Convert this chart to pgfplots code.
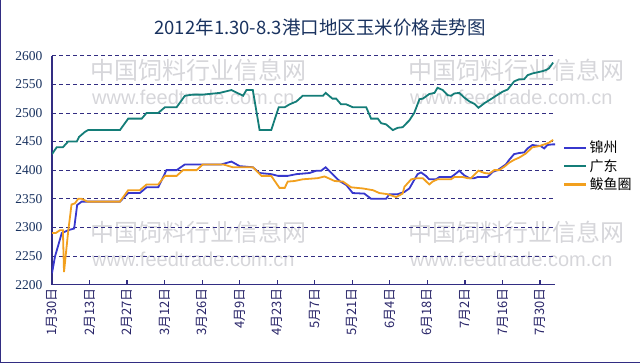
\documentclass[border=0pt]{standalone}
\usepackage{pgfplots}
\pgfplotsset{compat=1.18}
\usepackage{fontspec}
\setmainfont{Noto Sans CJK SC}
\newfontfamily\numfont{Liberation Serif}
\newfontfamily\wwwfont{Liberation Sans}
\definecolor{jz}{RGB}{55,55,205}
\definecolor{gd}{RGB}{20,125,120}
\definecolor{byq}{RGB}{242,160,30}
\definecolor{navyc}{RGB}{50,45,130}
\definecolor{titlec}{RGB}{25,50,95}
\definecolor{wm}{RGB}{214,214,218}
\begin{document}
\begin{tikzpicture}[x=1pt,y=1pt]
\path[use as bounding box] (0,0) rectangle (640,363);
\draw[navyc, line width=1.2pt] (0.6,363) -- (0.6,0.6) -- (640,0.6);
% watermarks
\foreach \xx/\yy in {90/293, 408/293, 90/131, 408/131}{
  \node[anchor=west, text=wm, font=\fontsize{24}{24}\selectfont, inner sep=0pt] at (\xx,\yy) {中国饲料行业信息网};
  \node[anchor=west, text=wm, font=\wwwfont\fontsize{20}{20}\selectfont, inner sep=0pt] at (\xx+2,\yy-27) {www.feedtrade.com.cn};
}
\node[text=titlec, font=\fontsize{18.5}{20}\selectfont] at (320,335) {2012年1.30-8.3港口地区玉米价格走势图};
\begin{axis}[
  at={(52pt,78.4pt)}, anchor=south west,
  scale only axis, width=503pt, height=228.9pt,
  xmin=0, xmax=134, ymin=2200, ymax=2600,
  xtick={0,10,...,130},
  xticklabels={1月30日,2月13日,2月27日,3月12日,3月26日,4月9日,4月23日,5月7日,5月21日,6月4日,6月18日,7月2日,7月16日,7月30日},
  ytick={2200,2250,...,2600},
  ymajorgrids,
  grid style={navyc, dash pattern=on 4pt off 3pt, line width=0.7pt},
  axis x line*=bottom, axis y line*=left,
  axis line style={-, navyc, line width=1.6pt},
  x tick label style={rotate=90, anchor=east, font=\fontsize{13}{14}\selectfont, text=navyc!80!black},
  y tick label style={font=\numfont\fontsize{13.5}{14}\selectfont, text=titlec, xshift=-6pt},
  /pgf/number format/assume math mode=true,
  /pgf/number format/1000 sep={},
  xtick style={navyc, line width=1.2pt},
  ytick style={draw=none},
  major tick length=5pt,
  tick align=inside,
  legend style={draw=none, fill=none, at={(1.01,0.645)}, anchor=north west,
    font=\fontsize{14}{16}\selectfont, row sep=1pt, text=black},
  legend cell align=left,
  legend image code/.code={\draw[#1, line width=2.4pt] (0pt,0pt) -- (22pt,0pt);},
]
\addplot[jz, line width=1.8pt] coordinates {
(0,2220) (0.8,2249) (2.6,2290) (4.3,2295) (5.9,2298) (6.7,2339) (7.9,2345) (18.1,2345) (20.3,2360) (23.4,2360) (25.2,2370) (28.3,2370) (30.5,2400) (33.2,2400) (35.4,2410) (45.1,2410) (47.8,2415) (50,2407) (53.5,2405) (55.3,2395) (58.4,2393) (60.2,2390) (62.8,2390) (65.1,2393) (68.6,2395) (70.4,2399) (71.7,2399) (72.9,2405) (74.4,2395) (76.6,2381) (78.4,2374) (80.1,2360) (83.2,2359) (85,2350) (89,2350) (89.9,2358) (92.1,2358) (93.9,2362) (95.2,2368) (96.5,2383) (97.4,2393) (98.3,2396) (99.6,2390) (100.5,2384) (102.3,2384) (103.2,2388) (106.3,2388) (107.2,2392) (108.5,2399) (109.8,2391) (111.2,2386) (112.5,2386) (113.4,2388) (116,2388) (117.4,2397) (118.7,2400) (120.9,2410) (121.8,2418) (123.1,2428) (124.5,2430) (125.8,2431) (126.7,2438) (128,2444) (128.9,2443) (130.2,2442) (131.1,2438) (132,2444) (133.3,2445) (134,2445)
};
\addlegendentry{锦州}
\addplot[gd, line width=1.8pt] coordinates {
(0,2428) (1.25,2440) (2.9,2440) (4.3,2450) (6.6,2450) (7.2,2458) (8.8,2467) (9.6,2470) (18.1,2470) (20.3,2490) (23.9,2490) (25.2,2500) (28.3,2500) (30.1,2510) (33.2,2510) (35.4,2530) (37.5,2532) (40.2,2532) (44.7,2535) (47.8,2540) (50.9,2530) (51.8,2540) (53.5,2540) (55.3,2470) (58.4,2470) (60.4,2510) (62,2510) (63.3,2515) (65.1,2520) (66.8,2530) (72.2,2530) (72.9,2535) (74.7,2525) (75.7,2525) (77,2515) (78.4,2515) (80.1,2510) (83.7,2510) (85,2490) (86.8,2490) (87.7,2482) (89,2480) (90.8,2470) (92.1,2474) (93.4,2475) (95.2,2487) (96.5,2500) (97.9,2524) (98.8,2525) (100.5,2533) (101.9,2535) (102.7,2544) (104.1,2540) (105.4,2531) (106.3,2530) (107.2,2534) (108.5,2535) (109.8,2527) (111.2,2520) (112.5,2516) (113.6,2509) (115.2,2517) (116.9,2524) (118.3,2530) (120,2537) (121.4,2541) (123.1,2555) (124.5,2559) (125.8,2559) (126.7,2566) (128,2569) (130.7,2573) (131.6,2575) (132.4,2578) (133.5,2588)
};
\addlegendentry{广东}
\addplot[byq, line width=1.8pt] coordinates {
(0,2290) (1.0,2290) (2.1,2295) (2.9,2295) (3.2,2222) (4.3,2292) (5.2,2340) (6.1,2342) (7.0,2350) (7.9,2350) (9.4,2345) (18.1,2345) (20.3,2365) (23.4,2365) (25.2,2375) (28.3,2375) (30.1,2390) (33.2,2390) (34.9,2400) (38.5,2400) (40.2,2410) (45.6,2410) (48.2,2405) (53.5,2405) (55.8,2390) (58.4,2390) (60.6,2369) (62,2369) (62.8,2380) (64.6,2381) (66.8,2384) (70.8,2386) (72.6,2389) (75.3,2381) (77.5,2380) (79.7,2370) (82.8,2368) (85.5,2365) (87.2,2360) (89.4,2358) (91.7,2353) (93.4,2359) (93.9,2371) (95.7,2384) (97.4,2386) (98.8,2386) (100.5,2375) (101.4,2380) (102.7,2384) (106.3,2384) (107.2,2388) (109.4,2388) (110.7,2386) (111.6,2386) (113.6,2399) (115.2,2395) (116.5,2394) (117.8,2400) (119.1,2400) (120.5,2406) (121.8,2413) (123.1,2418) (124.5,2422) (126.2,2429) (128,2440) (129.8,2442) (131.6,2446) (132.4,2448) (133.5,2453)
};
\addlegendentry{鲅鱼圈}
\end{axis}
\end{tikzpicture}
\end{document}
